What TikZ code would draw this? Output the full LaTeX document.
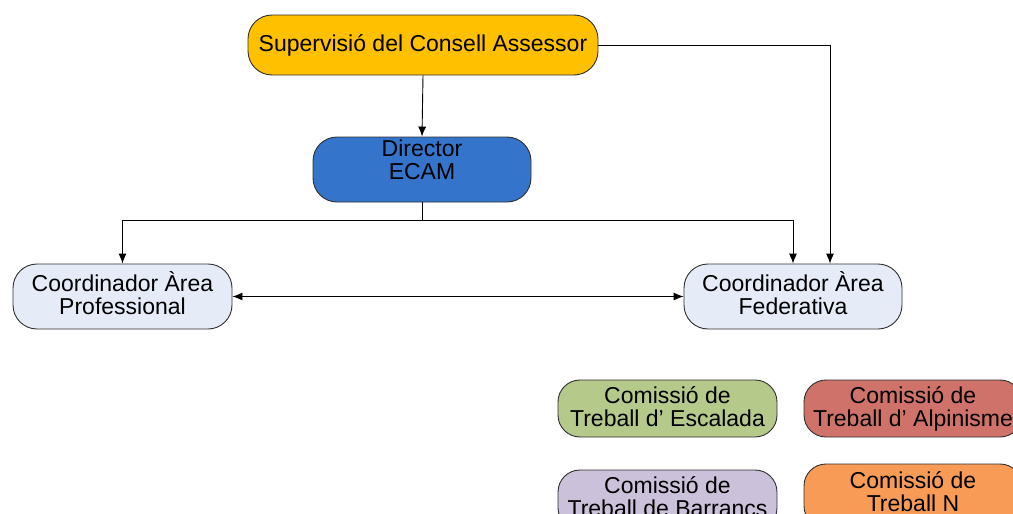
\documentclass[tikz,border=0pt]{standalone}
\usepackage{fontspec}
\setmainfont{Liberation Sans}
\usetikzlibrary{arrows.meta}
\definecolor{supc}{HTML}{FFC000}
\definecolor{dirc}{HTML}{3474CB}
\definecolor{coorc}{HTML}{E6ECF7}
\definecolor{escc}{HTML}{B5C98A}
\definecolor{alpc}{HTML}{CF726A}
\definecolor{barc}{HTML}{CCC1DA}
\definecolor{nc}{HTML}{F79B57}
\definecolor{edgec}{HTML}{303030}
\tikzset{
  box/.style={draw=edgec, line width=0.9pt, rounded corners=24pt, align=center,
    font=\fontsize{23}{23}\selectfont, inner sep=0pt},
  txt/.style={align=center, font=\fontsize{23}{23}\selectfont, inner sep=0pt},
  arr/.style={line width=0.9pt, -{Latex[length=10pt,width=8pt]}},
  darr/.style={line width=0.9pt, {Latex[length=10pt,width=8pt]}-{Latex[length=10pt,width=8pt]}},
}
\begin{document}
\begin{tikzpicture}[x=1pt,y=-1pt]
\useasboundingbox (0,0) rectangle (1013,514);
\clip (0,0) rectangle (1013,514);
\node[box, fill=supc, minimum width=350pt, minimum height=60pt] (sup) at (423,45) {Supervisió del Consell Assessor};
\node[box, fill=dirc, minimum width=218pt, minimum height=65pt] (dir) at (422,169.5) {};
\node[txt] (dirt) at (422,160) {Director\\ECAM};
\node[box, text depth=7pt, fill=coorc, minimum width=219pt, minimum height=65pt] (prof) at (122.5,296.5) {Coordinador Àrea\\Professional};
\node[box, text depth=7pt, fill=coorc, minimum width=218pt, minimum height=65pt] (fed) at (793,296.5) {Coordinador Àrea\\Federativa};
\node[box, text depth=4.8pt, fill=escc, minimum width=219pt, minimum height=57pt, rounded corners=22pt] (esc) at (667.5,408.5) {Comissió de\\Treball d’ Escalada};
\node[box, fill=alpc, minimum width=218pt, minimum height=57pt, rounded corners=22pt] (alp) at (913,408.5) {Comissió de\\Treball d’ Alpinisme};
\node[box, fill=barc, minimum width=219pt, minimum height=60pt, rounded corners=22pt] (bar) at (667.5,500) {};
\node[txt] (bart) at (667.5,497) {Comissió de\\Treball de Barrancs};
\node[box, fill=nc, minimum width=218pt, minimum height=64pt, rounded corners=22pt] (nn) at (913,496) {};
\node[txt] (nt) at (913,492) {Comissió de\\Treball N};
\draw[arr] (sup.south) -- (dir.north);
\draw[arr] (sup.east) -| ([xshift=37pt]fed.north);
\draw[arr] (dir.south) -- ++(0,18) -| (prof.north);
\draw[arr] (dir.south) -- ++(0,18) -| (fed.north);
\draw[darr] (prof.east) -- (fed.west);
\end{tikzpicture}
\end{document}
